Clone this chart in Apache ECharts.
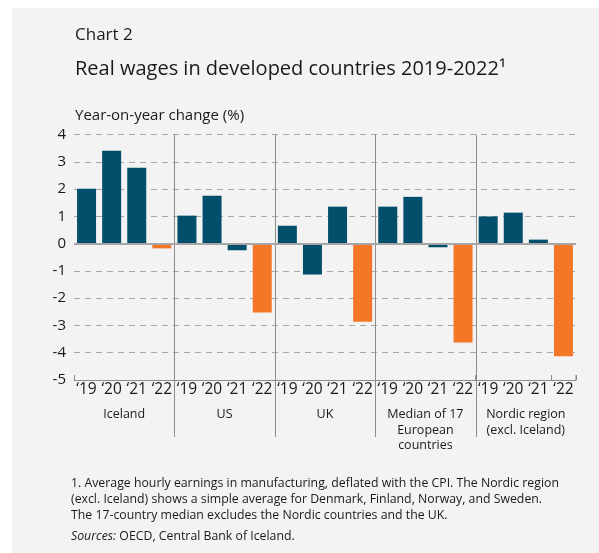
<!DOCTYPE html>
<html>
<head>
<meta charset="utf-8">
<script src="https://cdn.jsdelivr.net/npm/echarts@6/dist/echarts.min.js"></script>
<style>
html, body { margin: 0; padding: 0; background: #fff; }
#chart { position: absolute; left: 12px; top: 8px; width: 587px; height: 545px; background: #f3f3f3; }
</style>
</head>
<body>
<div id="chart"></div>
<script>
// data
const groups = ['Iceland', 'US', 'UK', 'Median of 17\nEuropean\ncountries', 'Nordic region\n(excl. Iceland)'];
const years = ['‘19', '‘20', '‘21', '‘22'];
const iceland = [2.02, 3.41, 2.79, -0.17];
const us = [1.03, 1.76, -0.24, -2.52];
const uk = [0.66, -1.13, 1.36, -2.86];
const median17 = [1.36, 1.72, -0.13, -3.62];
const nordic = [1.0, 1.14, 0.15, -4.13];
const yTicks = [-5, -4, -3, -2, -1, 0, 1, 2, 3, 4];

const FONT = 'Open Sans';
const TEAL = '#014f6b';
const ORANGE = '#f37726';

const cats = [];
groups.forEach(() => years.forEach(y => cats.push(y)));
const values = [].concat(iceland, us, uk, median17, nordic);

const chart = echarts.init(document.getElementById('chart'), null, { renderer: 'canvas' });

const option = {
    backgroundColor: '#f3f3f3',
    animation: false,
    textStyle: { fontFamily: FONT },
    grid: { left: 62, right: 23, top: 126.7, bottom: 173 },
    xAxis: [
        {
            type: 'category',
            data: cats,
            position: 'bottom',
            axisLine: { onZero: false, lineStyle: { color: '#8c8c8c', width: 1 } },
            axisTick: { show: true, inside: true, length: 5, interval: 3, lineStyle: { color: '#8c8c8c' } },
            axisLabel: { interval: 0, color: '#1a1a1a', fontSize: 15.5, fontFamily: FONT, margin: 2 },
            splitLine: { show: false }
        },
        {
            type: 'category',
            data: groups,
            position: 'bottom',
            offset: 20,
            axisLine: { show: false },
            axisTick: { show: false },
            axisLabel: { interval: 0, color: '#1a1a1a', fontSize: 12.5, fontFamily: FONT, lineHeight: 15.5, margin: 7 },
            splitLine: { show: false }
        }
    ],
    yAxis: {
        type: 'value',
        min: yTicks[0],
        max: yTicks[yTicks.length - 1],
        interval: 1,
        axisLine: { show: false },
        axisTick: { show: false },
        axisLabel: { color: '#1a1a1a', fontSize: 15, fontFamily: FONT, margin: 8 },
        splitLine: { show: true, lineStyle: { color: '#a6a6a6', type: [6, 5], width: 1 } }
    },
    series: [
        {
            type: 'bar',
            data: values,
            barWidth: 19,
            itemStyle: {
                color: p => (p.dataIndex % 4 === 3 ? ORANGE : TEAL)
            },
            markLine: {
                silent: true,
                symbol: 'none',
                label: { show: false },
                lineStyle: { color: '#a6a6a6', type: 'solid', width: 2 },
                data: [{ yAxis: 0 }]
            }
        }
    ]
};
chart.setOption(option);

// group dividers and text, placed through the axes
const yTop = chart.convertToPixel({ yAxisIndex: 0 }, yTicks[yTicks.length - 1]);
const yBottom = chart.convertToPixel({ yAxisIndex: 0 }, yTicks[0]);
const elements = [];
for (let g = 1; g < groups.length; g++) {
    const a = chart.convertToPixel({ xAxisIndex: 0 }, g * 4 - 1);
    const b = chart.convertToPixel({ xAxisIndex: 0 }, g * 4);
    const x = Math.round((a + b) / 2) + 0.5;
    elements.push({
        type: 'line',
        silent: true,
        shape: { x1: x, y1: yTop, x2: x, y2: yBottom + 57 },
        style: { stroke: '#8c8c8c', lineWidth: 1 }
    });
}
// small upward tick at the right end of the bottom axis
const xEnd = chart.convertToPixel({ xAxisIndex: 0 }, cats.length - 1) + 12.5;
elements.push({
    type: 'line',
    silent: true,
    shape: { x1: xEnd, y1: yBottom, x2: xEnd, y2: yBottom - 5 },
    style: { stroke: '#8c8c8c', lineWidth: 1 }
});

const texts = [
    { text: 'Chart 2', x: 63, y: 27, size: 17 },
    { text: 'Real wages in developed countries 2019-2022¹', x: 63, y: 61, size: 20 },
    { text: 'Year-on-year change (%)', x: 63, y: 108, size: 15 },
    { text: '1. Average hourly earnings in manufacturing, deflated with the CPI. The Nordic region', x: 59, y: 475, size: 12.3 },
    { text: '(excl. Iceland) shows a simple average for Denmark, Finland, Norway, and Sweden.', x: 59, y: 491, size: 12.3 },
    { text: 'The 17-country median excludes the Nordic countries and the UK.', x: 59, y: 507, size: 12.3 }
];
texts.forEach(t => elements.push({
    type: 'text',
    silent: true,
    x: t.x,
    y: t.y,
    style: { text: t.text, fill: '#1a1a1a', fontSize: t.size, fontFamily: FONT, verticalAlign: 'middle', align: 'left' }
}));
elements.push({
    type: 'text',
    silent: true,
    x: 59,
    y: 528,
    style: {
        text: '{i|Sources:} OECD, Central Bank of Iceland.',
        fill: '#1a1a1a',
        fontSize: 12.3,
        fontFamily: FONT,
        verticalAlign: 'middle',
        rich: { i: { fontStyle: 'italic', fontSize: 12.3, fontFamily: FONT, fill: '#1a1a1a' } }
    }
});

chart.setOption({ graphic: { elements: elements } });
</script>
</body>
</html>
